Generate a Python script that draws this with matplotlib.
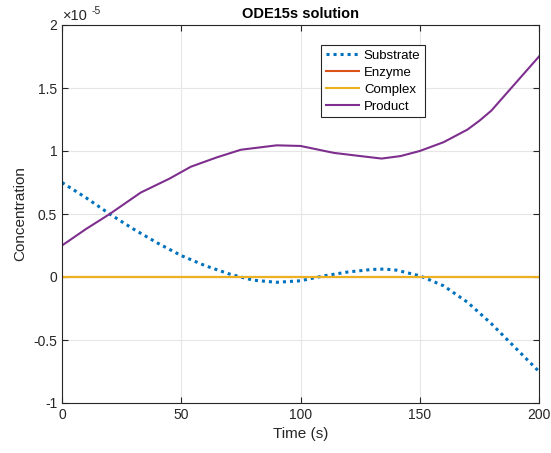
import matplotlib
matplotlib.use("Agg")
import matplotlib.pyplot as plt
import numpy as np

plt.rcParams['font.family'] = ['Liberation Sans', 'DejaVu Sans']

# values in units of 1e-5
t_sub = [0, 10, 20, 30, 40, 50, 60, 70, 80, 90, 100, 110, 120, 130, 135, 140, 150, 160, 170, 180, 190, 200]
substrate = [0.75, 0.63, 0.50, 0.38, 0.27, 0.17, 0.09, 0.025, -0.025, -0.042, -0.03, 0.01, 0.04, 0.06, 0.063, 0.055, 0.01, -0.07, -0.20, -0.37, -0.56, -0.75]

t_prod = [0, 10, 20, 33, 45, 54, 65, 75, 90, 100, 114, 125, 134, 142, 150, 160, 170, 175, 180, 190, 200]
product = [0.25, 0.38, 0.50, 0.67, 0.78, 0.875, 0.95, 1.01, 1.045, 1.04, 0.985, 0.96, 0.94, 0.96, 1.0, 1.07, 1.17, 1.24, 1.32, 1.535, 1.75]

t_flat = [0, 200]
enzyme = [0, 0]
complex_ = [0, 0]

labels = ['Substrate', 'Enzyme', 'Complex', 'Product']
colors = ['#0072BD', '#D95319', '#EDB120', '#7E2F8E']

fig = plt.figure(figsize=(5.51, 4.53), dpi=100)
ax = fig.add_axes([62/551, 1-403/453, (539-62)/551, (403-25)/453])

ax.plot(t_sub, substrate, linestyle=(0, (1, 1.3)), color=colors[0], lw=2.2, label=labels[0])
ax.plot(t_flat, enzyme, color=colors[1], lw=1.5, label=labels[1])
ax.plot(t_flat, complex_, color=colors[2], lw=1.5, label=labels[2])
ax.plot(t_prod, product, color=colors[3], lw=1.5, label=labels[3])

ax.set_xlim(0, 200)
ax.set_ylim(-1, 2)
ax.set_xticks([0, 50, 100, 150, 200])
ax.set_yticks([-1, -0.5, 0, 0.5, 1, 1.5, 2])
ax.set_yticklabels(['-1', '-0.5', '0', '0.5', '1', '1.5', '2'])
ax.grid(True, color='#e6e6e6', lw=0.8)
ax.set_axisbelow(True)
ax.tick_params(direction='in', length=4, top=True, right=True, labelsize=10, colors='#262626', width=0.8)
for s in ax.spines.values():
    s.set_color('#262626')
    s.set_linewidth(0.8)

ax.set_xlabel('Time (s)', fontsize=11, color='#262626')
ax.set_ylabel('Concentration', fontsize=11, color='#262626')
ax.set_title('ODE15s solution', fontsize=10.5, fontweight='bold', color='black', pad=5)
ax.text(0.003, 1.006, '\u00d710', transform=ax.transAxes, fontsize=10.5, color='#262626', va='bottom', ha='left')
ax.text(0.061, 1.024, '-5', transform=ax.transAxes, fontsize=7.5, color='#262626', va='bottom', ha='left')

leg = ax.legend(loc='upper left', bbox_to_anchor=((321-62)/477, 1-(45-25)/378), fontsize=9.5,
                frameon=True, fancybox=False, edgecolor='#262626', framealpha=1,
                handlelength=2.5, handletextpad=0.4, borderpad=0.35, labelspacing=0.36, borderaxespad=0)
leg.get_frame().set_linewidth(0.8)

fig.savefig('out.png', dpi=100)
